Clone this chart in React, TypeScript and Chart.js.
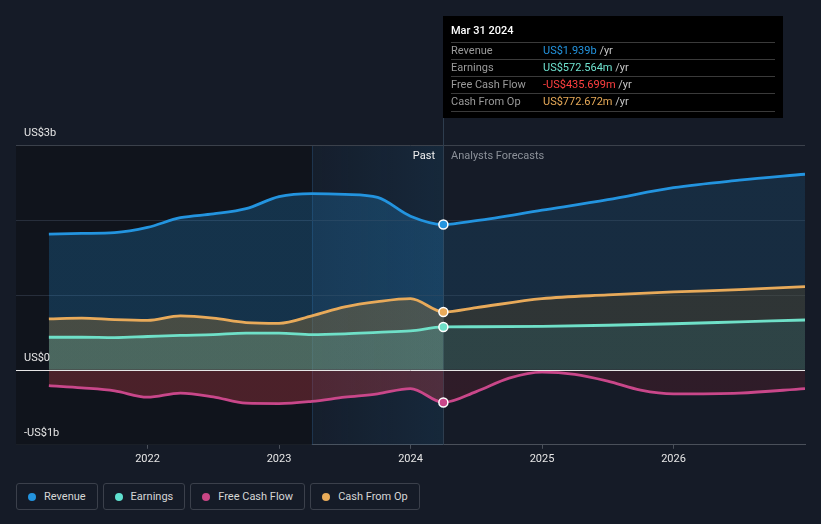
import React, { useEffect, useRef } from "react";
import { Chart, registerables } from "chart.js";

Chart.register(...registerables);

// ---------- data (US$ billions) ----------
const pastYears = [2021.25, 2021.5, 2021.75, 2022, 2022.25, 2022.5, 2022.75, 2023, 2023.25, 2023.5, 2023.75, 2024, 2024.25];
const revenuePast = [1.81, 1.82, 1.83, 1.9, 2.03, 2.08, 2.15, 2.31, 2.35, 2.34, 2.3, 2.05, 1.939];
const earningsPast = [0.435, 0.435, 0.43, 0.445, 0.46, 0.47, 0.49, 0.49, 0.47, 0.48, 0.5, 0.52, 0.5726];
const fcfPast = [-0.21, -0.24, -0.28, -0.365, -0.31, -0.36, -0.445, -0.45, -0.42, -0.365, -0.32, -0.25, -0.4357];
const cfoPast = [0.68, 0.69, 0.67, 0.66, 0.72, 0.69, 0.63, 0.62, 0.72, 0.84, 0.91, 0.95, 0.7727];

const forecastYears = [2024.5, 2025, 2025.5, 2026, 2026.5, 2027];
const revenueForecast = [1.99, 2.13, 2.27, 2.43, 2.53, 2.61];
const earningsForecast = [0.575, 0.58, 0.595, 0.615, 0.64, 0.665];
const cfoForecast = [0.83, 0.95, 1.0, 1.04, 1.07, 1.11];

const fcfForecastYears = [2024.5, 2024.75, 2025, 2025.25, 2025.5, 2025.75, 2026, 2026.5, 2027];
const fcfForecast = [-0.29, -0.11, -0.03, -0.06, -0.15, -0.27, -0.32, -0.31, -0.25];

const xTickYears = [2022, 2023, 2024, 2025, 2026];
const yGridValues = [3, 2, 1];
const yLabelValues = [3, 0, -1];
const yLabelTexts = ["US$3b", "US$0", "-US$1b"];

const nowYear = 2024.25;
const highlightStart = 2023.25;

const seriesNames = ["Revenue", "Earnings", "Free Cash Flow", "Cash From Op"];
const seriesColors = ["#2394df", "#6fe0c8", "#c9478a", "#e8aa5a"];
const legendDotColors = ["#2394df", "#5fe0cf", "#c94685", "#e8ab59"];
const tooltipDate = "Mar 31 2024";
const tooltipValues = ["US$1.939b", "US$572.564m", "-US$435.699m", "US$772.672m"];
const tooltipValueColors = ["#2394df", "#6fe3d0", "#ff4040", "#e8ab59"];

const FONT = "Roboto, 'Open Sans', sans-serif";

function pts(xs: number[], ys: number[]) {
  return xs.map((x, i) => ({ x, y: ys[i] }));
}

function splitFill(past: string, future: string) {
  return (c: any) => {
    const chart = c.chart;
    const area = chart.chartArea;
    if (!area) return past;
    const xs = chart.scales.x;
    let p = (xs.getPixelForValue(nowYear) - area.left) / (area.right - area.left);
    p = Math.max(0, Math.min(1, p));
    const g = chart.ctx.createLinearGradient(area.left, 0, area.right, 0);
    g.addColorStop(0, past);
    g.addColorStop(p, past);
    g.addColorStop(p, future);
    g.addColorStop(1, future);
    return g;
  };
}

const decorPlugin = {
  id: "decor",
  beforeDatasetsDraw(chart: any) {
    const { ctx, chartArea: a, scales } = chart;
    const xs = scales.x;
    const ys = scales.y;
    const xHi = xs.getPixelForValue(highlightStart);
    const xNow = xs.getPixelForValue(nowYear);
    ctx.save();
    ctx.fillStyle = "#10141c";
    ctx.fillRect(a.left, a.top, xHi - a.left, a.bottom - a.top);
    const g = ctx.createLinearGradient(xHi, 0, xNow, 0);
    g.addColorStop(0, "rgba(35,148,223,0.03)");
    g.addColorStop(1, "rgba(35,148,223,0.11)");
    ctx.fillStyle = g;
    ctx.fillRect(xHi, a.top, xNow - xHi, a.bottom - a.top);

    // faint boundary of highlighted year
    ctx.strokeStyle = "rgba(40,80,120,0.45)";
    ctx.lineWidth = 1;
    ctx.beginPath();
    ctx.moveTo(Math.round(xHi) + 0.5, a.top);
    ctx.lineTo(Math.round(xHi) + 0.5, a.bottom);
    ctx.stroke();

    // horizontal grid lines
    yGridValues.forEach((v, i) => {
      const py = Math.round(ys.getPixelForValue(v)) + 0.5;
      ctx.strokeStyle = i === 0 ? "#3b414b" : "#272e3b";
      ctx.beginPath();
      ctx.moveTo(a.left, py);
      ctx.lineTo(a.right, py);
      ctx.stroke();
    });

    // "now" vertical line
    ctx.strokeStyle = "#2e3d4e";
    ctx.beginPath();
    ctx.moveTo(Math.round(xNow) + 0.5, 17);
    ctx.lineTo(Math.round(xNow) + 0.5, a.bottom);
    ctx.stroke();
    ctx.restore();
  },
  afterDatasetsDraw(chart: any) {
    const { ctx, chartArea: a, scales } = chart;
    const py = Math.round(scales.y.getPixelForValue(0)) + 0.5;
    ctx.save();
    ctx.strokeStyle = "#e6e6e6";
    ctx.lineWidth = 1;
    ctx.beginPath();
    ctx.moveTo(a.left, py);
    ctx.lineTo(a.right, py);
    ctx.stroke();
    ctx.restore();
  },
  afterDraw(chart: any) {
    const { ctx, chartArea: a, scales } = chart;
    const xs = scales.x;
    const ys = scales.y;
    const xNow = Math.round(xs.getPixelForValue(nowYear));
    ctx.save();
    ctx.textBaseline = "middle";

    // y labels
    ctx.font = `11px ${FONT}`;
    ctx.fillStyle = "#e6e6e6";
    ctx.textAlign = "left";
    yLabelValues.forEach((v, i) => {
      ctx.fillText(yLabelTexts[i], a.left + 8, ys.getPixelForValue(v) - 12);
    });

    // Past / Analysts Forecasts
    ctx.textAlign = "right";
    ctx.fillStyle = "#f0f0f0";
    ctx.fillText("Past", xNow - 8, a.top + 11);
    ctx.textAlign = "left";
    ctx.fillStyle = "#8c9199";
    ctx.fillText("Analysts Forecasts", xNow + 8, a.top + 11);

    // tooltip box
    const bx = xNow;
    const by = 16;
    const bw = 340;
    const bh = 102;
    ctx.fillStyle = "#000000";
    ctx.fillRect(bx, by, bw, bh);
    ctx.font = `500 11px ${FONT}`;
    ctx.fillStyle = "#ffffff";
    ctx.fillText(tooltipDate, bx + 8, 31);
    const lineYs = [42, 59, 76, 93, 111];
    ctx.strokeStyle = "#3a3a3a";
    ctx.lineWidth = 1;
    lineYs.forEach((ly) => {
      ctx.beginPath();
      ctx.moveTo(bx + 8, ly + 0.5);
      ctx.lineTo(bx + bw - 8, ly + 0.5);
      ctx.stroke();
    });
    ctx.font = `11px ${FONT}`;
    seriesNames.forEach((name, i) => {
      const ty = (lineYs[i] + lineYs[i + 1]) / 2 + 0.5;
      ctx.fillStyle = "#9a9a9a";
      ctx.fillText(name, bx + 8, ty);
      ctx.fillStyle = tooltipValueColors[i];
      ctx.fillText(tooltipValues[i], bx + 100, ty);
      const w = ctx.measureText(tooltipValues[i] + " ").width;
      ctx.fillStyle = "#c8c8c8";
      ctx.fillText("/yr", bx + 100 + w, ty);
    });
    ctx.restore();
  },
};

export default function App() {
  const canvasRef = useRef<HTMLCanvasElement | null>(null);

  useEffect(() => {
    document.body.style.margin = "0";
    document.body.style.background = "#151b27";
    const canvas = canvasRef.current;
    if (!canvas) return;

    const pointRadius = (c: any) => (c.raw && c.raw.x === nowYear ? 4.5 : 0);

    const common = {
      fill: "origin",
      cubicInterpolationMode: "monotone",
      borderWidth: 2.8,
      pointRadius,
      pointHoverRadius: pointRadius,
      pointBorderColor: "#ffffff",
      pointBorderWidth: 1.5,
    };

    const chart = new Chart(canvas, {
      type: "line",
      data: {
        datasets: [
          {
            ...common,
            label: seriesNames[0],
            data: pts(pastYears, revenuePast).concat(pts(forecastYears, revenueForecast)),
            borderColor: seriesColors[0],
            pointBackgroundColor: seriesColors[0],
            backgroundColor: splitFill("rgba(35,148,223,0.24)", "rgba(35,148,223,0.14)"),
            order: 4,
          },
          {
            ...common,
            label: seriesNames[1],
            data: pts(pastYears, earningsPast).concat(pts(forecastYears, earningsForecast)),
            borderColor: seriesColors[1],
            pointBackgroundColor: seriesColors[1],
            backgroundColor: splitFill("rgba(90,200,190,0.22)", "rgba(40,160,170,0.14)"),
            order: 2,
          },
          {
            ...common,
            label: seriesNames[2],
            data: pts(pastYears, fcfPast).concat(pts(fcfForecastYears, fcfForecast)),
            borderColor: seriesColors[2],
            pointBackgroundColor: seriesColors[2],
            backgroundColor: splitFill("rgba(200,60,70,0.32)", "rgba(200,40,50,0.15)"),
            order: 1,
          },
          {
            ...common,
            label: seriesNames[3],
            data: pts(pastYears, cfoPast).concat(pts(forecastYears, cfoForecast)),
            borderColor: seriesColors[3],
            pointBackgroundColor: seriesColors[3],
            backgroundColor: splitFill("rgba(160,120,55,0.36)", "rgba(120,80,20,0.25)"),
            order: 3,
          },
        ],
      } as any,
      options: {
        animation: false,
        responsive: false,
        events: [],
        layout: { padding: { left: 16, right: 16, top: 145, bottom: 0 } },
        plugins: { legend: { display: false }, tooltip: { enabled: false } },
        scales: {
          x: {
            type: "linear",
            min: 2021,
            max: 2027,
            afterBuildTicks: (ax: any) => {
              ax.ticks = xTickYears.map((v) => ({ value: v }));
            },
            ticks: {
              color: "#e6e6e6",
              font: { family: FONT, size: 11 },
              padding: 4,
              maxRotation: 0,
              autoSkip: false,
              callback: (v: any) => String(v),
            },
            grid: { drawOnChartArea: false, drawTicks: true, tickLength: 4, color: "#4a505a" },
            border: { color: "#4a505a", width: 1 },
          },
          y: { display: false, min: -1, max: 3 },
        },
      } as any,
      plugins: [decorPlugin],
    });
    return () => chart.destroy();
  }, []);

  return (
    <div style={{ position: "relative", width: 821, height: 524, background: "#151b27", overflow: "hidden" }}>
      <canvas ref={canvasRef} width={821} height={470} style={{ display: "block", position: "absolute", left: 0, top: 0 }} />
      <div
        style={{
          position: "absolute",
          left: 16,
          top: 483,
          display: "flex",
          gap: 5,
          fontFamily: FONT,
          fontSize: 11,
          color: "#d6d6d6",
        }}
      >
        {seriesNames.map((name, i) => (
          <div
            key={name}
            style={{
              boxSizing: "border-box",
              height: 27,
              border: "1px solid #3b404b",
              borderRadius: 3,
              padding: "0 11px 0 11px",
              display: "flex",
              alignItems: "center",
            }}
          >
            <span
              style={{
                width: 8,
                height: 8,
                borderRadius: "50%",
                background: legendDotColors[i],
                marginRight: 8,
                display: "inline-block",
              }}
            />
            <span>{name}</span>
          </div>
        ))}
      </div>
    </div>
  );
}
